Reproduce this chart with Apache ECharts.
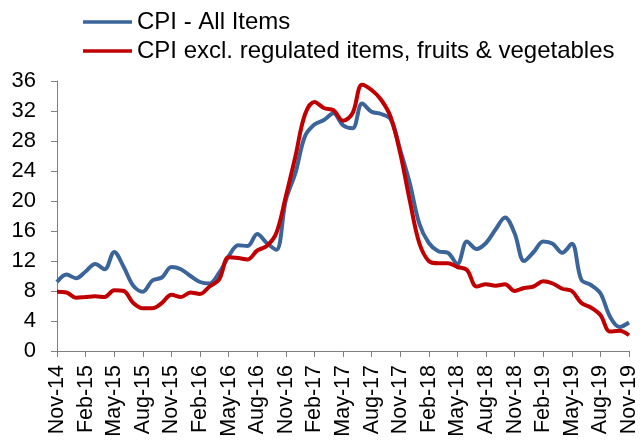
<!DOCTYPE html>
<html><head><meta charset="utf-8">
<script src="https://cdn.jsdelivr.net/npm/echarts@6/dist/echarts.min.js"></script>
<style>html,body{margin:0;padding:0;background:#fff}#c{width:640px;height:443px}</style>
</head><body><div id="c"></div>
<script>
var categories = [
"Nov-14","Dec-14","Jan-15","Feb-15","Mar-15","Apr-15","May-15","Jun-15","Jul-15","Aug-15","Sep-15","Oct-15",
"Nov-15","Dec-15","Jan-16","Feb-16","Mar-16","Apr-16","May-16","Jun-16","Jul-16","Aug-16","Sep-16","Oct-16",
"Nov-16","Dec-16","Jan-17","Feb-17","Mar-17","Apr-17","May-17","Jun-17","Jul-17","Aug-17","Sep-17","Oct-17",
"Nov-17","Dec-17","Jan-18","Feb-18","Mar-18","Apr-18","May-18","Jun-18","Jul-18","Aug-18","Sep-18","Oct-18",
"Nov-18","Dec-18","Jan-19","Feb-19","Mar-19","Apr-19","May-19","Jun-19","Jul-19","Aug-19","Sep-19","Oct-19",
"Nov-19"];
var cpiAll = [
9.2,10.2,9.7,10.6,11.6,10.9,13.2,11.2,8.7,7.9,9.4,9.8,
11.2,10.9,10.0,9.2,9.0,10.4,12.6,14.1,14.0,15.6,14.4,13.5,
20.1,23.7,28.6,30.2,30.8,31.7,30.1,29.7,33.0,31.9,31.6,30.9,
26.8,22.4,17.0,14.4,13.3,13.1,11.6,14.6,13.6,14.4,16.2,17.8,
15.7,12.0,13.2,14.6,14.3,13.1,14.3,9.5,8.8,7.7,4.6,3.2,
3.8];
var cpiExcl = [
7.9,7.8,7.1,7.2,7.3,7.2,8.1,8.0,6.4,5.7,5.7,6.4,
7.5,7.2,7.8,7.6,8.6,9.5,12.5,12.4,12.2,13.4,14.0,15.7,
20.6,25.9,31.5,33.2,32.4,32.1,30.7,31.7,35.5,34.8,33.5,31.2,
26.4,20.1,14.4,12.0,11.7,11.7,11.2,10.8,8.6,8.9,8.7,8.9,
8.0,8.4,8.6,9.3,9.0,8.3,8.0,6.4,5.8,4.8,2.6,2.7,
2.1];
var seriesNames = ["CPI - All Items","CPI excl. regulated items, fruits & vegetables"];

var chart = echarts.init(document.getElementById('c'));
var font = 'Liberation Sans, Arial, sans-serif';
chart.setOption({
  animation: false,
  textStyle: {fontFamily: font},
  legend: {
    orient: 'vertical', left: 83, top: 10, itemGap: 5, padding: 0,
    icon: 'rect', itemWidth: 49, itemHeight: 3.5,
    textStyle: {fontSize: 24, color: '#000', fontFamily: font, padding: [0,0,0,0]},
    data: seriesNames
  },
  grid: {left: 57, right: 10, top: 81, bottom: 92, containLabel: false},
  xAxis: {
    type: 'category', data: categories, boundaryGap: false,
    axisLine: {lineStyle: {color: '#7f7f7f', width: 1}},
    axisTick: {interval: 2, length: 6, lineStyle: {color: '#7f7f7f'}},
    axisLabel: {interval: 2, rotate: 90, fontSize: 21.5, color: '#000', margin: 14, fontFamily: font},
    splitLine: {show: false}
  },
  yAxis: {
    type: 'value', min: 0, max: 36, interval: 4,
    axisLine: {show: true, lineStyle: {color: '#7f7f7f', width: 1}},
    axisTick: {show: true, length: 6, lineStyle: {color: '#7f7f7f'}},
    axisLabel: {fontSize: 22, color: '#000', margin: 21, fontFamily: font},
    splitLine: {show: false}
  },
  series: [
    {name: seriesNames[0], type: 'line', data: cpiAll, smooth: 0.35, showSymbol: false,
     lineStyle: {width: 4, color: '#3B659A'}, itemStyle: {color: '#3B659A'}},
    {name: seriesNames[1], type: 'line', data: cpiExcl, smooth: 0.35, showSymbol: false,
     lineStyle: {width: 4, color: '#C00000'}, itemStyle: {color: '#C00000'}}
  ]
});
</script></body></html>
